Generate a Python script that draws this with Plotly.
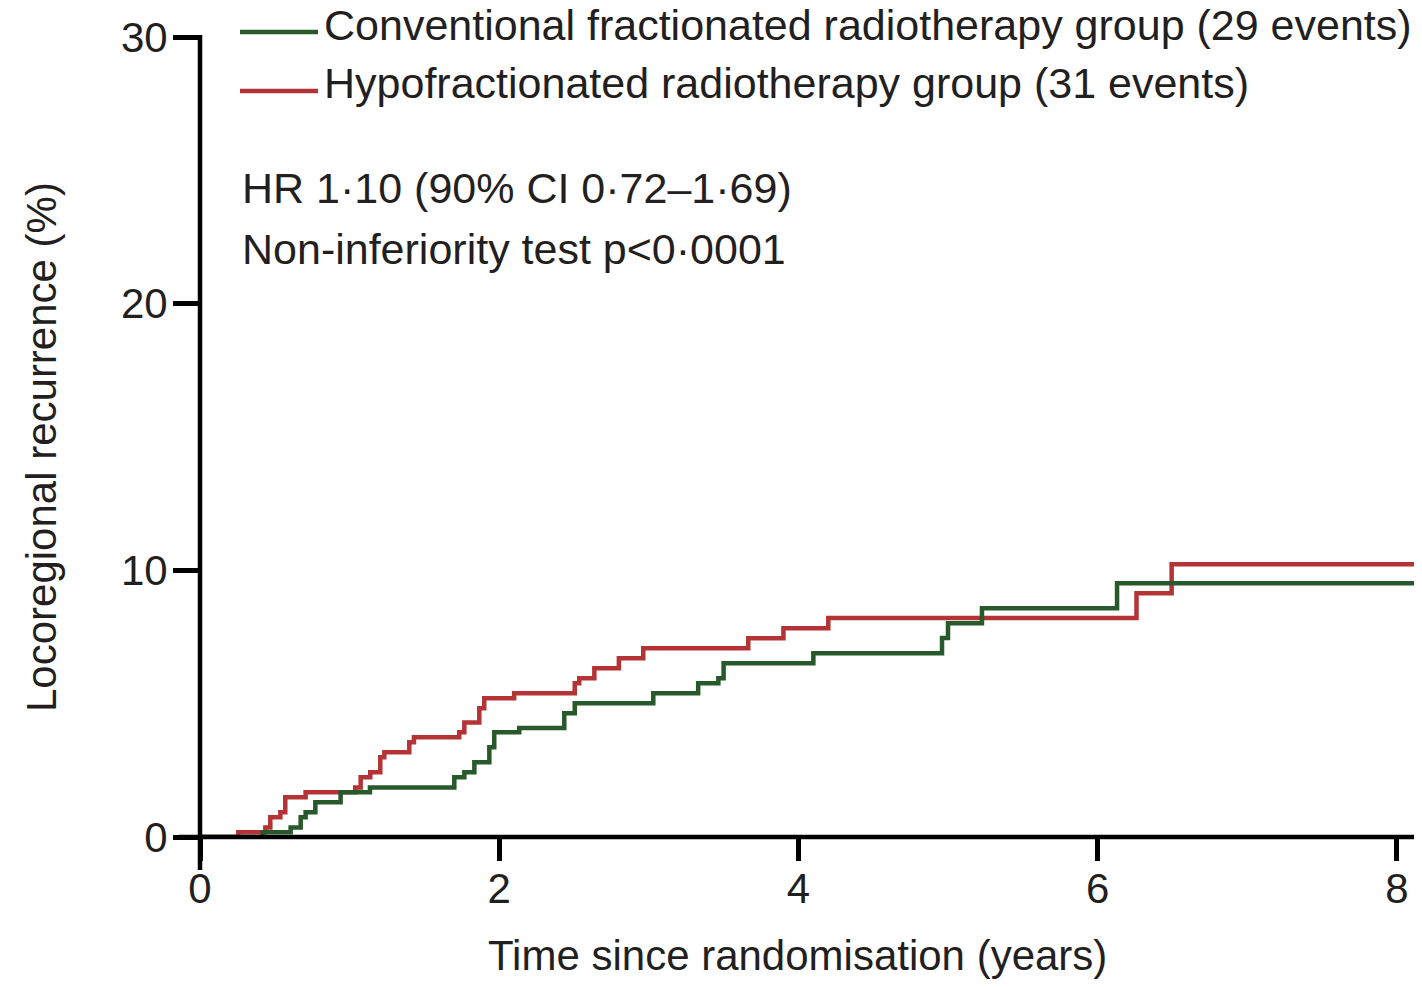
import plotly.graph_objects as go

# ---- data ----
hypo_time = [0, 0.256, 0.437, 0.47, 0.537, 0.57, 0.706, 1.038, 1.074, 1.138, 1.205, 1.232,
             1.399, 1.43, 1.733, 1.767, 1.867, 1.90, 2.10, 2.505, 2.535, 2.636, 2.80, 2.963,
             3.665, 3.90, 4.20, 6.26, 6.495, 8.17]
hypo_pct = [0, 0.18, 0.36, 0.74, 0.93, 1.49, 1.68, 1.86, 2.24, 2.43, 2.99, 3.18,
            3.55, 3.74, 3.93, 4.29, 4.83, 5.20, 5.39, 5.77, 5.95, 6.33, 6.70, 7.08,
            7.45, 7.83, 8.21, 9.14, 10.23, 10.23]

conv_time = [0, 0.42, 0.606, 0.673, 0.706, 0.771, 0.94, 1.136, 1.70, 1.767, 1.834, 1.934,
             1.967, 2.134, 2.435, 2.505, 3.03, 3.33, 3.465, 3.50, 4.10, 4.96, 5.0, 5.227,
             6.13, 8.17]
conv_pct = [0, 0.18, 0.36, 0.74, 0.93, 1.30, 1.68, 1.86, 2.24, 2.43, 2.80, 3.37,
            3.93, 4.09, 4.64, 5.02, 5.39, 5.77, 5.95, 6.52, 6.89, 7.46, 8.02, 8.58,
            9.52, 9.52]

series_names = ["Conventional fractionated radiotherapy group (29 events)",
                "Hypofractionated radiotherapy group (31 events)"]
stats_lines = ["HR 1·10 (90% CI 0·72–1·69)", "Non-inferiority test p<0·0001"]
x_ticks = [0, 2, 4, 6, 8]
y_ticks = [0, 10, 20, 30]
x_title = "Time since randomisation (years)"
y_title = "Locoregional recurrence (%)"

GREEN = "#28592a"
RED = "#b43334"
TXT = "#231f20"
FONT = "Liberation Sans, Arial, sans-serif"

OFF = 8  # page body margin
W, H = 1414, 971
L, T = 192, 29
PW, PH = 1222, 800
R, B = W - L - PW, H - T - PH
XMAX = PW / 149.6

fig = go.Figure()
fig.add_trace(go.Scatter(x=hypo_time, y=hypo_pct, mode="lines", line_shape="hv",
                         line=dict(color=RED, width=4.5), name=series_names[1],
                         showlegend=False))
fig.add_trace(go.Scatter(x=conv_time, y=conv_pct, mode="lines", line_shape="hv",
                         line=dict(color=GREEN, width=4.5), name=series_names[0],
                         showlegend=False))

def px_x(p):  # page pixel -> paper x
    return (p - OFF - L) / PW

def px_y(p):  # page pixel -> paper y
    return (T + PH - (p - OFF)) / PH

shapes = []
# axis lines at data zero
shapes.append(dict(type="line", xref="paper", yref="paper", x0=0, x1=0,
                   y0=px_y(870), y1=px_y(35), layer="above",
                   line=dict(color="black", width=4.5)))
shapes.append(dict(type="line", xref="paper", yref="paper", x0=px_x(179), x1=1,
                   y0=0, y1=0, layer="above", line=dict(color="black", width=4.5)))
# legend samples
for yy, col in [(32, GREEN), (91, RED)]:
    shapes.append(dict(type="line", xref="paper", yref="paper", x0=px_x(240), x1=px_x(318),
                       y0=px_y(yy), y1=px_y(yy), line=dict(color=col, width=4.5)))

annotations = []
for yy, txt in [(25.5, series_names[0]), (83.5, series_names[1])]:
    annotations.append(dict(xref="paper", yref="paper", x=px_x(322), y=px_y(yy), text=txt,
                            showarrow=False, xanchor="left", yanchor="middle",
                            font=dict(family=FONT, size=43, color=TXT)))
for yy, txt in [(188.5, stats_lines[0]), (249, stats_lines[1])]:
    annotations.append(dict(xref="paper", yref="paper", x=px_x(240), y=px_y(yy), text=txt,
                            showarrow=False, xanchor="left", yanchor="middle",
                            font=dict(family=FONT, size=43, color=TXT)))
annotations.append(dict(xref="paper", yref="paper", x=px_x(797), y=px_y(955), text=x_title,
                        showarrow=False, xanchor="center", yanchor="middle",
                        font=dict(family=FONT, size=42, color=TXT)))
annotations.append(dict(xref="paper", yref="paper", x=px_x(42), y=px_y(447), text=y_title,
                        showarrow=False, xanchor="center", yanchor="middle", textangle=-90,
                        font=dict(family=FONT, size=42, color=TXT)))

fig.update_layout(
    width=W, height=H,
    margin=dict(l=L, r=R, t=T, b=B, pad=0),
    paper_bgcolor="white", plot_bgcolor="white",
    shapes=shapes, annotations=annotations,
    xaxis=dict(range=[0, XMAX], tickvals=x_ticks, ticktext=[str(v) for v in x_ticks],
               showline=False, ticks="outside", ticklen=23, tickwidth=4.5,
               tickcolor="black", showgrid=False, zeroline=False, ticklabelstandoff=-8,
               tickfont=dict(family=FONT, size=42, color=TXT)),
    yaxis=dict(range=[0, 30], tickvals=y_ticks, ticktext=[str(v) for v in y_ticks],
               showline=False, ticks="outside", ticklen=26, tickwidth=4.5,
               tickcolor="black", showgrid=False, zeroline=False, ticklabelstandoff=-3,
               tickfont=dict(family=FONT, size=42, color=TXT)),
)

fig.write_html("out.html")
